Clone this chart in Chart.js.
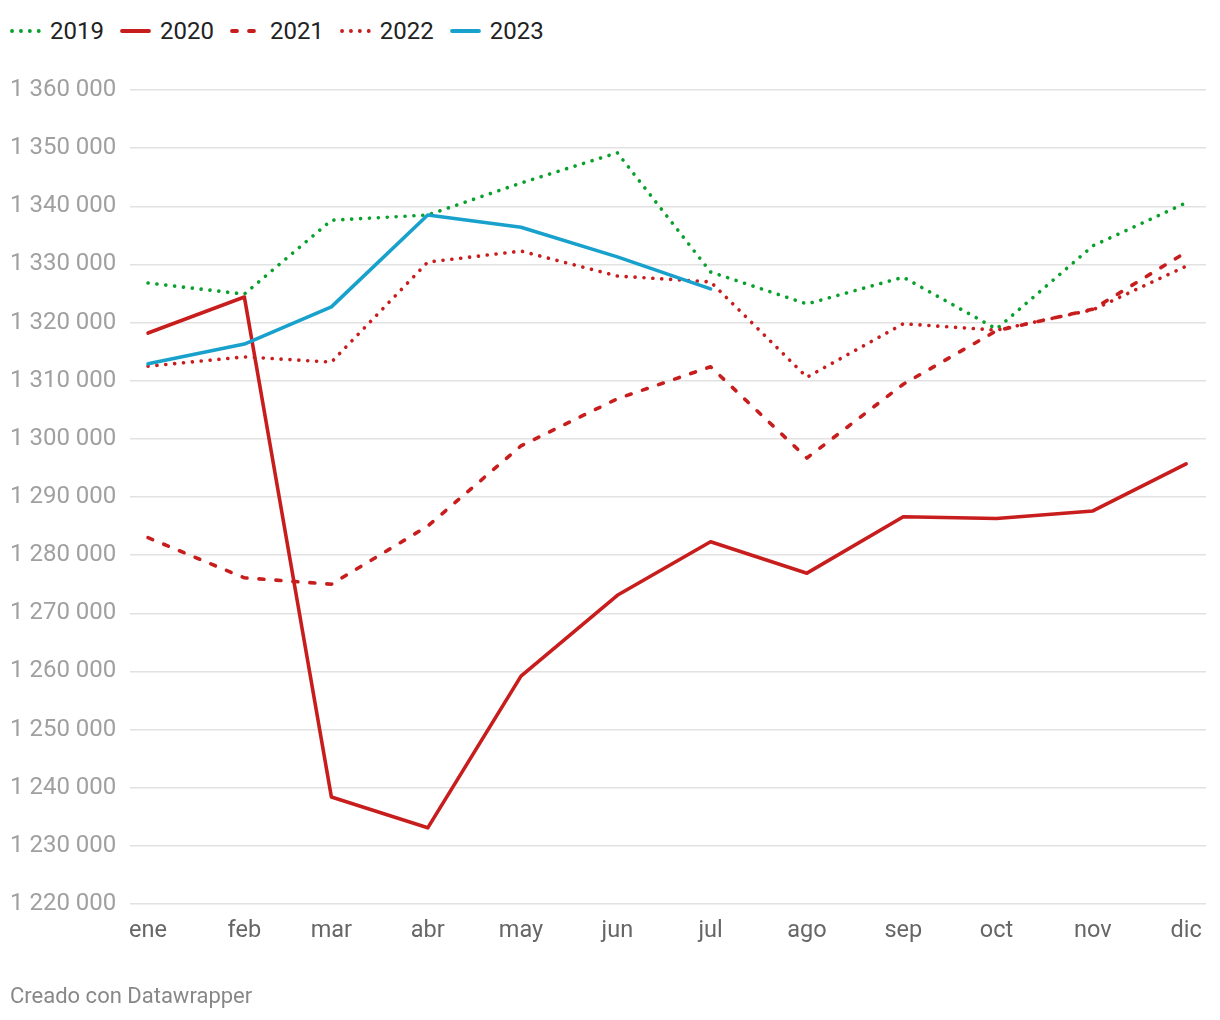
<!DOCTYPE html>
<html lang="es">
<head>
<meta charset="utf-8">
<script src="https://cdn.jsdelivr.net/npm/chart.js@4.4.1/dist/chart.umd.min.js"></script>
<style>
  html, body { margin: 0; padding: 0; background: #fff; }
  body { width: 1220px; height: 1020px; position: relative; font-family: Roboto, "Noto Sans", sans-serif; }
  #chart { position: absolute; left: 0; top: 0; }
  .legend { position: absolute; left: 10px; top: 17px; display: flex; align-items: center; font-size: 24px; color: #222; }
  .legend .item { display: flex; align-items: center; margin-right: 16px; }
  .legend svg { margin-right: 9px; }
  .footer { position: absolute; left: 10px; top: 983px; font-size: 22px; color: #888; }
</style>
</head>
<body>
<div class="legend" id="legend"></div>
<canvas id="chart" width="1220" height="1020"></canvas>
<div class="footer">Creado con Datawrapper</div>

<script>
// Data
const months = ['ene', 'feb', 'mar', 'abr', 'may', 'jun', 'jul', 'ago', 'sep', 'oct', 'nov', 'dic'];
// day of year for the 1st of each month (the x axis is a time axis)
const monthDay = [0, 31, 59, 90, 120, 151, 181, 212, 243, 273, 304, 334];
const years = ['2019', '2020', '2021', '2022', '2023'];

const v2019 = [1326800, 1324900, 1337600, 1338500, 1344000, 1349200, 1328700, 1323200, 1327800, 1318900, 1333200, 1340600];
const v2020 = [1318200, 1324400, 1238400, 1233100, 1259200, 1273100, 1282300, 1276900, 1286600, 1286300, 1287600, 1295700];
const v2021 = [1283000, 1276100, 1275000, 1285000, 1298800, 1306900, 1312400, 1296700, 1309400, 1318600, 1322300, 1332100];
const v2022 = [1312500, 1314100, 1313200, 1330400, 1332300, 1328000, 1327000, 1310600, 1319800, 1318700, 1322200, 1329700];
const v2023 = [1312900, 1316300, 1322700, 1338500, 1336400, 1331300, 1325800];

const yTicks = [1220000, 1230000, 1240000, 1250000, 1260000, 1270000, 1280000,
                1290000, 1300000, 1310000, 1320000, 1330000, 1340000, 1350000, 1360000];

const RED = '#c71e1d';
const GREEN = '#09a02c';
const BLUE = '#18a1cd';
const DOTS = [0.1, 8.8];
const DASHES = [5, 12];

const styles = [
    { color: GREEN, dash: DOTS },
    { color: RED, dash: [] },
    { color: RED, dash: DASHES },
    { color: RED, dash: DOTS },
    { color: BLUE, dash: [] },
];
const series = [v2019, v2020, v2021, v2022, v2023];

function fmt(n) {
    return String(n).replace(/\B(?=(\d{3})+(?!\d))/g, ' ');
}

// HTML legend
const legend = document.getElementById('legend');
years.forEach((y, i) => {
    const s = styles[i];
    const item = document.createElement('div');
    item.className = 'item';
    const dash = s.dash.length ? `stroke-dasharray="${s.dash.join(' ')}"` : '';
    item.innerHTML =
        `<svg width="31" height="8"><line x1="2" y1="4" x2="29" y2="4" stroke="${s.color}" stroke-width="3.8" stroke-linecap="round" ${dash}/></svg>` +
        `<span>${y}</span>`;
    legend.appendChild(item);
});

new Chart(document.getElementById('chart'), {
    type: 'line',
    data: {
        datasets: series.map((vals, i) => ({
            label: years[i],
            data: vals.map((v, k) => ({ x: monthDay[k], y: v })),
            borderColor: styles[i].color,
            borderDash: styles[i].dash,
            borderWidth: 3.6,
            borderCapStyle: 'round',
            borderJoinStyle: 'round',
            pointRadius: 0,
            tension: 0,
            fill: false,
            order: 4 - i,
        })),
    },
    options: {
        responsive: false,
        animation: false,
        layout: { padding: { left: 10, right: 14, top: 90, bottom: 66 } },
        plugins: {
            legend: { display: false },
            tooltip: { enabled: false },
        },
        scales: {
            x: {
                type: 'linear',
                min: -5.8,
                max: 340.4,
                afterBuildTicks: (scale) => {
                    scale.ticks = monthDay.map(d => ({ value: d }));
                },
                afterFit: (scale) => { scale.height = 50; },
                grid: { display: false, drawTicks: false },
                border: { display: false },
                ticks: {
                    color: '#666',
                    padding: 13,
                    maxRotation: 0,
                    autoSkip: false,
                    font: { family: 'Roboto', size: 23.5 },
                    callback: (v) => months[monthDay.indexOf(v)] ?? '',
                },
            },
            y: {
                min: 1220000,
                max: 1360000,
                afterBuildTicks: (scale) => {
                    scale.ticks = yTicks.map(v => ({ value: v }));
                },
                afterFit: (scale) => { scale.width = 120; },
                border: { display: false },
                grid: { color: '#e2e2e2', lineWidth: 1.5, drawTicks: false },
                ticks: {
                    color: '#a0a0a0',
                    crossAlign: 'far',
                    padding: 0,
                    font: { family: 'Roboto', size: 24 },
                    callback: (v) => fmt(v),
                },
            },
        },
    },
});
</script>
</body>
</html>
